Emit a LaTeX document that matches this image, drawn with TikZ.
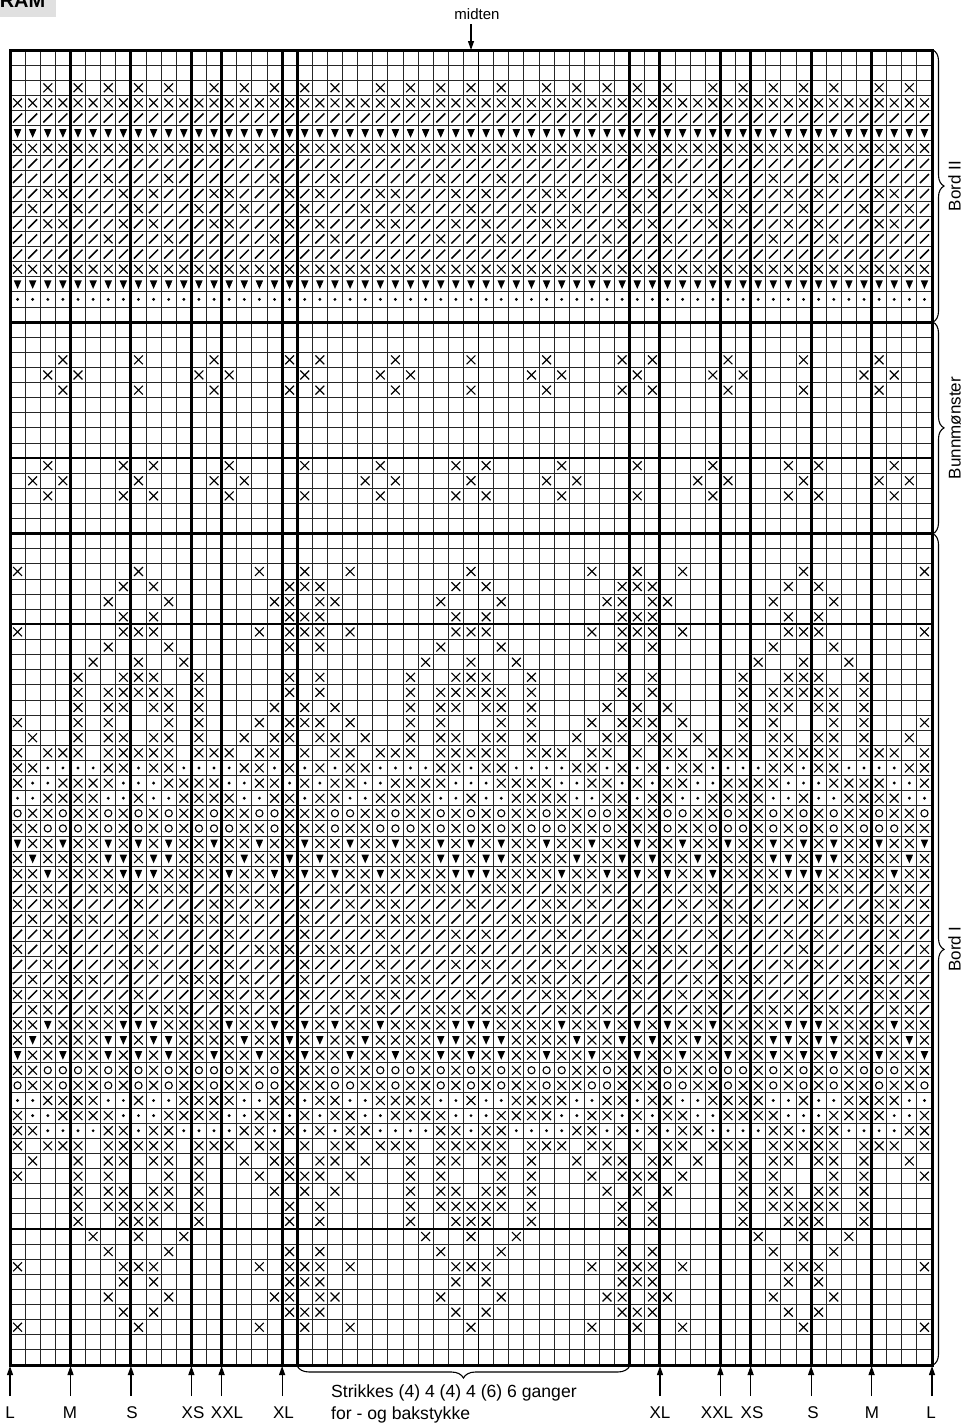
\documentclass[tikz,border=0pt]{standalone}
\usepackage{fontspec}
\setmainfont{Liberation Sans}
\usetikzlibrary{arrows.meta,decorations.pathreplacing}
\newcommand\cellsz{15.115}
\newcount\symidx
\newcommand\DrawRow[2]{\edef\currow{#1}\symidx=0 \edef\tmprow{#2}\expandafter\RowLoop\tmprow\relax}
\def\RowLoop#1{\ifx\relax#1\else\PlaceSym#1\advance\symidx by 1 \expandafter\RowLoop\fi}
\def\PlaceSym#1{\if#1-\else
  \foreach \k in {0,1,2}{%
    \edef\colx{\the\numexpr\symidx-3+22*\k\relax}%
    \ifnum\colx>-1 \ifnum\colx<61 \pic at ({10+(\colx+0.5)*\cellsz},{50+(\currow+0.5)*\cellsz}) {k#1};\fi\fi
  }\fi}
\newcommand\lblfont{\fontsize{17}{20}\selectfont}
\tikzset{
  pics/kx/.style={code={\draw[line width=1.15pt] (-4.4,-4.4) -- (4.4,4.4) (-4.4,4.4) -- (4.4,-4.4);}},
  pics/ks/.style={code={\draw[line width=1.5pt] (-4.5,4.5) -- (4.5,-4.5);}},
  pics/kv/.style={code={\fill (-3.8,-4) -- (3.8,-4) -- (0,4.6) -- cycle;}},
  pics/kd/.style={code={\fill (0,0) circle (1.6);}},
  pics/ko/.style={code={\draw[line width=1.1pt] (0,0) circle (3.6);}},
  thingrid/.style={line width=0.9pt, black!85},
  midgrid/.style={line width=1.8pt, black},
  thickgrid/.style={line width=3pt, black},
  arr/.style={line width=1.2pt, -{Triangle[length=9pt,width=6pt]}},
  brc/.style={line width=1.1pt, decorate, decoration={brace, amplitude=11pt}},
  lbl/.style={font=\lblfont, anchor=base, inner sep=0pt},
}
\begin{document}
\begin{tikzpicture}[x=1pt,y=-1pt]
\useasboundingbox (0,0) rectangle (962,1427);
\fill[white] (0,0) rectangle (962,1427);
% title fragment
\fill[black!12] (0,0) rectangle (56,17);
\node[font=\bfseries\fontsize{20}{20}\selectfont, anchor=base east, inner sep=0pt] (title) at (45.5,7) {DIAGRAM};
% thin grid
\foreach \c in {0,...,61} \draw[thingrid] ({10+\c*\cellsz},50) -- ({10+\c*\cellsz},1365);
\foreach \r in {0,...,87} \draw[thingrid] (10,{50+\r*\cellsz}) -- (932,{50+\r*\cellsz});
% Bord II
\foreach \r/\p in {
 2/x-x--x-x-x-x-x--x-x-x-,
 3/xxxxxxxxxxxxxxxxxxxxxx,
 4/ssssssssssssssssssssss,
 5/vvvvvvvvvvvvvvvvvvvvvv,
 6/xxxxxxxxxxxxxxxxxxxxxx,
 7/ssssssssssssssssssssss,
 8/ssxssssssxsssxssssssxs,
 9/sxsssxxsssxsxsssxxsssx,
 10/xsssxssxsssxsssxssxsss,
 11/sxsssxxsssxsxsssxxsssx,
 12/ssxssssssxsssxssssssxs,
 13/ssssssssssssssssssssss,
 14/xxxxxxxxxxxxxxxxxxxxxx,
 15/vvvvvvvvvvvvvvvvvvvvvv,
 16/dddddddddddddddddddddd,
 20/-x----x----x----x----x,
 21/x----x-x-------x-x----,
 22/-x----x----x----x----x,
 27/x----x----x-x----x----,
 28/----x-x----x----x-x---,
 29/x----x----x-x----x----}{\DrawRow{\r}{\p}}
% Bord I (mirrored about row 59)
\foreach \r/\p in {
 34/x--x-------x-------x--,
 35/xx--------x-x--------x,
 36/-xx------x---x------xx,
 37/xx--------x-x--------x,
 38/xx-x------xxx------x-x,
 39/-x-------x---x-------x,
 40/--------x--x--x-------,
 41/-x-----x--xxx--x-----x,
 42/-x-----x-xxxxx-x-----x,
 43/x-x----x-xx-xx-x----x-,
 44/xx-x---x-x---x-x---x-x,
 45/-xx-x--x-xx-xx-x--x-xx,
 46/x-xx-xxx-xxxxx-xxx-xx-,
 47/dxdxxddddxxdxxddddxxdx,
 48/xdxxddxxxxdddxxxxddxxd,
 49/dxxddxxxxddxddxxxxddxx,
 50/xxooxxoxxoxoxoxxoxxoox,
 51/xxoxxoooxoxoxoxoooxxox,
 52/vxxvxxvxxvxvxvxxvxxvxx,
 53/xvxxvxxxxvvxvvxxxxvxxv,
 54/vxvxxvxxxxvvvxxxxvxxvx,
 55/ssxsxxssxxxsxxxssxxsxs,
 56/xssxsxxssssxssssxxsxss,
 57/xsssxsxxxsssssxxxsxsss,
 58/xssssxssssxsxssssxssss}{\DrawRow{\r}{\p}\DrawRow{\the\numexpr118-\r\relax}{\p}}
\DrawRow{59}{sxxxssxssssxssssxssxxx}
% medium lines
\foreach \r in {27,38,78} \draw[midgrid] (10,{50+\r*\cellsz}) -- (932,{50+\r*\cellsz});
\draw[midgrid] ({10+31*\cellsz},50) -- ({10+31*\cellsz},1365);
% thick lines
\foreach \c in {4,8,12,14,18,19,41,43,47,49,53,57} \draw[thickgrid] ({10+\c*\cellsz},50) -- ({10+\c*\cellsz},1365);
\foreach \r in {18,32} \draw[thickgrid] (10,{50+\r*\cellsz}) -- (932,{50+\r*\cellsz});
\draw[thickgrid] (10,50) rectangle (932,1365);
% midten
\node[font=\fontsize{15}{18}\selectfont, anchor=base, inner sep=0pt] (midten) at (477,19) {midten};
\coordinate (midA) at (471,24);
\coordinate (midB) at (471,50);
\draw[arr] (midA) -- (midB);
% right braces
\coordinate (b2a) at (933,50);  \coordinate (b2b) at (933,322.1);
\coordinate (bma) at (933,322.1); \coordinate (bmb) at (933,533.7);
\coordinate (b1a) at (933,533.7); \coordinate (b1b) at (933,1365);
\draw[brc] (b2a) -- (b2b);
\draw[brc] (bma) -- (bmb);
\draw[brc] (b1a) -- (b1b);
\node[lbl, rotate=90] (bord2) at (960.5,186) {Bord II};
\node[lbl, rotate=90] (bunn) at (960.5,428) {Bunnmønster};
\node[lbl, rotate=90] (bord1) at (960.5,949) {Bord I};
% bottom brace
\coordinate (rpA) at (629.7,1366); \coordinate (rpB) at (297.2,1366);
\draw[brc, decoration={brace, amplitude=12pt}] (rpA) -- (rpB);
\node[font=\fontsize{17.6}{20}\selectfont, anchor=base west, inner sep=0pt] (rep1) at (331,1397) {Strikkes (4) 4 (4) 4 (6) 6 ganger};
\node[font=\fontsize{17.6}{20}\selectfont, anchor=base west, inner sep=0pt] (rep2) at (331,1419) {for - og bakstykke};
% size arrows
\foreach \nm/\ax/\lx/\t in {aL/10/10/L, aM/70.5/70/M, aS/130.9/132/S, aXS/191.4/193/XS, aXXL/221.6/227/XXL, aXL/282.1/283.5/XL,
   bXL/660/660/XL, bXXL/720.4/717/XXL, bXS/750.6/752/XS, bS/811.1/813/S, bM/871.6/872/M, bL/932/931/L}{
  \coordinate (\nm-s) at (\ax,1396);
  \coordinate (\nm-e) at (\ax,1366);
  \draw[arr] (\nm-s) -- (\nm-e);
  \node[lbl] (\nm-t) at (\lx,1418) {\t};
}
\end{tikzpicture}
\end{document}
